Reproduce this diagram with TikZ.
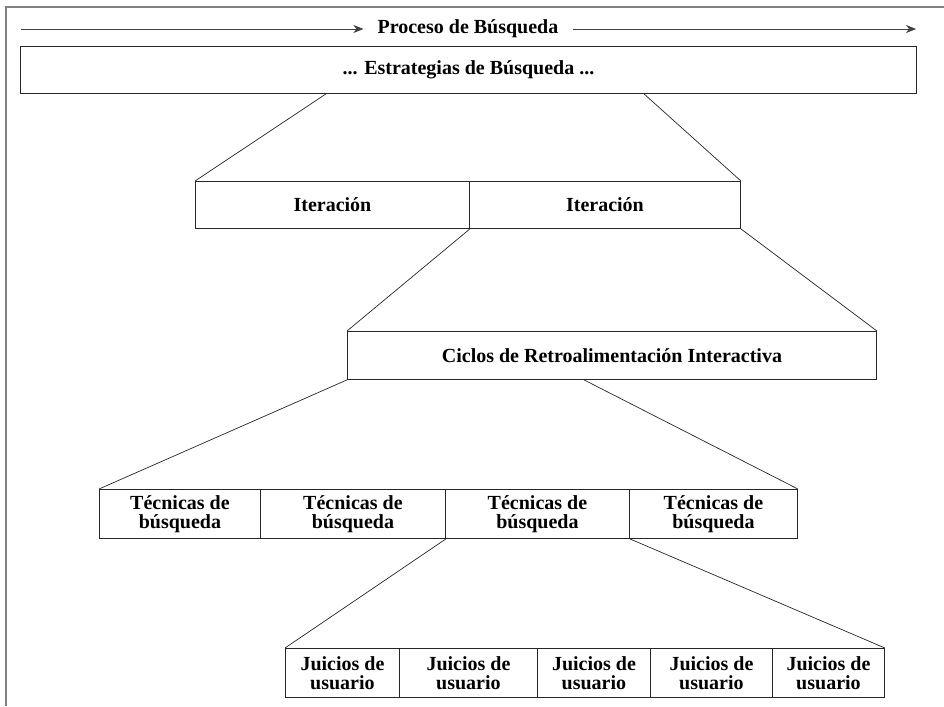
\documentclass[tikz,border=0pt]{standalone}
\usepackage{fontspec}
\setmainfont{Liberation Serif}
\usetikzlibrary{arrows.meta}
\begin{document}
\begin{tikzpicture}[x=1pt,y=-1pt,
  labelfont/.style={font=\bfseries\fontsize{20}{19.5}\selectfont},
  frameline/.style={draw=black!50, line width=1.8pt},
  box/.style={draw=black!85, line width=0.9pt, inner sep=0pt, anchor=north west,
    labelfont, align=center},
  link/.style={draw=black!85, line width=0.7pt},
  flow/.style={draw=black!75, line width=0.8pt, -{Stealth[length=10pt,width=8pt,inset=3pt]}}]
\useasboundingbox (0,0) rectangle (944,706);

% outer frame (top and left edges)
\draw[frameline] (6,706) -- (6,7) -- (944,7);

% process arrow
\node[labelfont, inner xsep=14pt, inner ysep=0pt] (proc) at (468,29) {Proceso de Búsqueda};
\coordinate (arrL) at (21,29);
\coordinate (arrR) at (916,29);
\draw[flow] (arrL) -- (proc.west);
\draw[flow] (proc.east) -- (arrR);

% strategies
\node[box, minimum width=896pt, minimum height=47pt] (strat) at (20,46) {... Estrategias de Búsqueda ...};

% iterations
\node[box, minimum width=274pt, minimum height=47pt] (it1) at (195,181) {Iteración};
\node[box, minimum width=271pt, minimum height=47pt] (it2) at (469,181) {Iteración};

% feedback cycles
\node[box, minimum width=529pt, minimum height=48pt] (cyc) at (347,331) {Ciclos de Retroalimentación Interactiva};

% search techniques
\node[box, minimum width=161pt, minimum height=49pt] (t1) at (99,489) {Técnicas de\\búsqueda};
\node[box, minimum width=185pt, minimum height=49pt] (t2) at (260,489) {Técnicas de\\búsqueda};
\node[box, minimum width=184pt, minimum height=49pt] (t3) at (445,489) {Técnicas de\\búsqueda};
\node[box, minimum width=168pt, minimum height=49pt] (t4) at (629,489) {Técnicas de\\búsqueda};

% user judgements
\node[box, minimum width=114pt, minimum height=49pt] (j1) at (285,648) {Juicios de\\usuario};
\node[box, minimum width=138pt, minimum height=49pt] (j2) at (399,648) {Juicios de\\usuario};
\node[box, minimum width=113pt, minimum height=49pt] (j3) at (537,648) {Juicios de\\usuario};
\node[box, minimum width=122pt, minimum height=49pt] (j4) at (650,648) {Juicios de\\usuario};
\node[box, minimum width=112pt, minimum height=49pt] (j5) at (772,648) {Juicios de\\usuario};

% zoom-in connectors
\draw[link] ([xshift=306pt]strat.south west) -- (it1.north west);
\draw[link] ([xshift=624pt]strat.south west) -- (it2.north east);
\draw[link] (it1.south east) -- (cyc.north west);
\draw[link] (it2.south east) -- (cyc.north east);
\draw[link] (cyc.south west) -- (t1.north west);
\draw[link] ([xshift=237pt]cyc.south west) -- (t4.north east);
\draw[link] (t2.south east) -- (j1.north west);
\draw[link] (t3.south east) -- (j5.north east);
\end{tikzpicture}
\end{document}
